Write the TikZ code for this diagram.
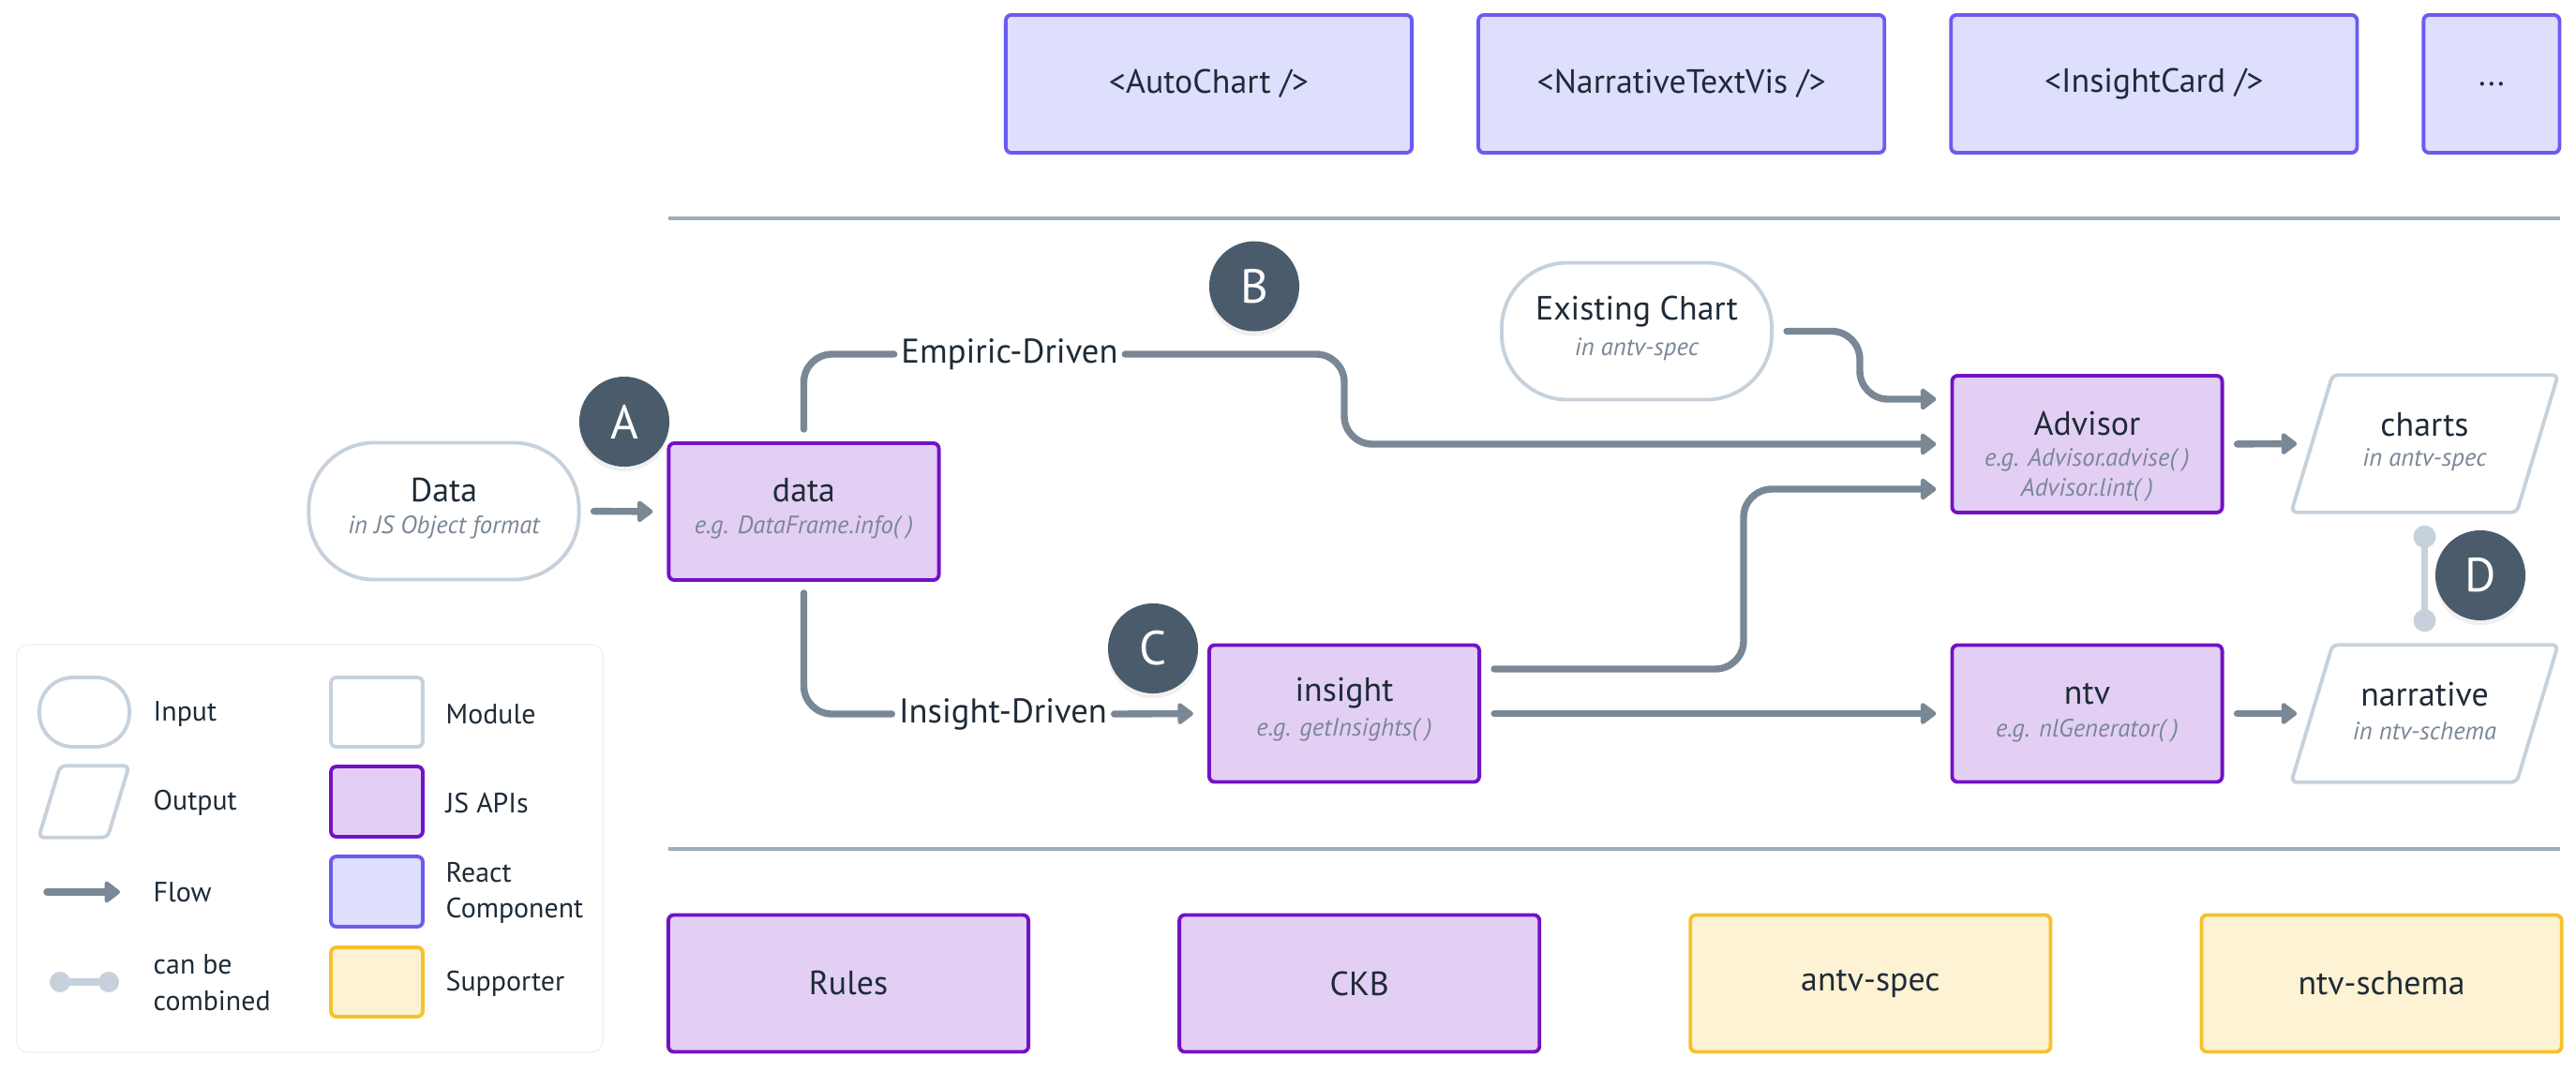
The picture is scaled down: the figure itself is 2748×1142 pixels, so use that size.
\documentclass[tikz,border=0pt]{standalone}
\usepackage{fontspec}
\setmainfont{PT Sans}
\usetikzlibrary{arrows.meta,shapes,positioning,shadows,calc}
\definecolor{ava-flow}{HTML}{7A8795}
\definecolor{ava-line}{HTML}{C6D1DB}
\definecolor{ava-sep}{HTML}{9DADBA}
\definecolor{ava-js-fill}{HTML}{E3CFF3}
\definecolor{ava-js-draw}{HTML}{7312C4}
\definecolor{ava-react-fill}{HTML}{DEDEFD}
\definecolor{ava-react-draw}{HTML}{6B5BF2}
\definecolor{ava-sup-fill}{HTML}{FDF2D3}
\definecolor{ava-sup-draw}{HTML}{F6C12B}
\definecolor{ava-badge}{HTML}{4A5C6B}
\definecolor{ava-text}{HTML}{1E2B37}
\definecolor{ava-sub}{HTML}{7A8795}

\begin{document}
\begin{tikzpicture}[x=0.01cm, y=-0.01cm, node distance={6.7mm},
    box/.style={rectangle, rounded corners=0.06cm, line width=1.1pt, minimum width=2.88cm, minimum height=1.46cm, inner sep=0pt, text=ava-text, font=\fontsize{10.2}{12}\selectfont},
    jsbox/.style={box, draw=ava-js-draw, fill=ava-js-fill},
    reactbox/.style={box, draw=ava-react-draw, fill=ava-react-fill, minimum width=4.33cm, minimum height=1.47cm},
    supbox/.style={box, draw=ava-sup-draw, fill=ava-sup-fill, minimum width=3.84cm},
    modbox/.style={box, draw=ava-line, fill=white},
    inbox/.style={box, draw=ava-line, fill=white, rounded corners=0.7cm},
    outbox/.style={rectangle, minimum width=2.83cm, minimum height=1.45cm, inner sep=0pt},
    outline/.style={draw=ava-line, line width=1.1pt, rounded corners=0.06cm, fill=white},
    boxtitle/.style={text=ava-text, font=\fontsize{10.2}{12}\selectfont, inner sep=0pt},
    boxsub/.style={text=ava-sub, font=\fontsize{7.6}{9.2}\selectfont\itshape, inner sep=0pt, align=center},
    edgelabel/.style={text=ava-text, font=\fontsize{10.4}{12}\selectfont, fill=white, inner sep=2pt},
    badge/.style={circle, fill=ava-badge, text=white, minimum size=0.96cm, inner sep=0pt, font=\fontsize{14.5}{16}\selectfont, drop shadow={shadow xshift=0pt, shadow yshift=-1.5pt, opacity=0.12}},
    flow/.style={draw=ava-flow, line width=2.1pt, line cap=round, rounded corners=0.3cm, -{Triangle[length=0.18cm, width=0.26cm, round]}},
    flowline/.style={draw=ava-flow, line width=2.1pt, line cap=round, rounded corners=0.3cm},
    gapin/.style={shorten <=4pt},
    gapout/.style={shorten >=4.3pt},
    legtext/.style={text=ava-text, font=\fontsize{8.5}{11}\selectfont, anchor=west, align=left, inner sep=0pt}]

    \useasboundingbox (0,0) rectangle (2748,1142);

    % react components
    \node[reactbox] (autochart) at (1289.5,89.5) {<AutoChart />};
    \node[reactbox] (ntvis) [right=of autochart] {<NarrativeTextVis />};
    \node[reactbox] (card) [right=of ntvis] {<InsightCard />};
    \node[reactbox, minimum width=1.45cm] (more) [right=of card] {...};

    \draw[ava-sep, line width=1.1pt] (713,233) -- (2731,233);
    \draw[ava-sep, line width=1.1pt] (713,906) -- (2731,906);

    % inputs, apis, outputs
    \node[inbox] (datain) at (473.5,545.5) {};
    \node[boxtitle] (datain-t) at ([yshift=0.22cm]datain.center) {Data};
    \node[boxsub] (datain-s) at ([yshift=-0.17cm]datain.center) {in JS Object format};

    \node[jsbox] (data) at (857.5,546) {};
    \node[boxtitle] (data-t) at ([yshift=0.23cm]data.center) {data};
    \node[boxsub] (data-s) at ([yshift=-0.17cm]data.center) {e.g. DataFrame.info( )};

    \node[jsbox] (insight) at (1434,761.5) {};
    \node[boxtitle] (insight-t) at ([yshift=0.215cm]insight.center) {insight};
    \node[boxsub] (insight-s) at ([yshift=-0.175cm]insight.center) {e.g. getInsights( )};

    \node[inbox] (chart) at (1746,353.5) {};
    \node[boxtitle] (chart-t) at ([yshift=0.21cm]chart.center) {Existing Chart};
    \node[boxsub] (chart-s) at ([yshift=-0.19cm]chart.center) {in antv-spec};

    \node[jsbox] (advisor) at (2226.5,474) {};
    \node[boxtitle] (advisor-t) at ([yshift=0.22cm]advisor.center) {Advisor};
    \node[boxsub] (advisor-s) at ([yshift=-0.33cm]advisor.center) {e.g. Advisor.advise( )\\Advisor.lint( )};

    \node[jsbox] (ntv) at (2226.5,761.5) {};
    \node[boxtitle] (ntv-t) at ([yshift=0.205cm]ntv.center) {ntv};
    \node[boxsub] (ntv-s) at ([yshift=-0.185cm]ntv.center) {e.g. nlGenerator( )};

    \node[outbox] (charts) at (2586.5,473.5) {};
    \draw[outline] ([xshift=0.44cm]charts.north west) -- (charts.north east) -- ([xshift=-0.44cm]charts.south east) -- (charts.south west) -- cycle;
    \node[boxtitle] (charts-t) at ([yshift=0.205cm]charts.center) {charts};
    \node[boxsub] (charts-s) at ([yshift=-0.175cm]charts.center) {in antv-spec};

    \node[outbox] (narr) at (2586.5,761.5) {};
    \draw[outline] ([xshift=0.44cm]narr.north west) -- (narr.north east) -- ([xshift=-0.44cm]narr.south east) -- (narr.south west) -- cycle;
    \node[boxtitle] (narr-t) at ([yshift=0.205cm]narr.center) {narrative};
    \node[boxsub] (narr-s) at ([yshift=-0.185cm]narr.center) {in ntv-schema};

    % flows
    \draw[flow, gapin, gapout] (datain.east) -- (data.west);

    \node[edgelabel] (empiric) at (1077,378) {Empiric-Driven};
    \draw[flowline, shorten <=3.7pt] (data.north) |- (empiric.west);
    \draw[flow, gapout] (empiric.east) -| (1434,474) -- (advisor.west);

    \node[edgelabel] (insdriven) at (1070,762) {Insight-Driven};
    \draw[flowline, shorten <=3.4pt] (data.south) |- (insdriven.west);
    \draw[flow, gapout] (insdriven.east) -- (insight.west);

    \draw[flow, gapin, gapout] ([yshift=0.475cm]insight.east) -| (1860,522) -- ([yshift=-0.48cm]advisor.west);
    \draw[flow, gapin, gapout] (insight.east) -- (ntv.west);
    \draw[flow, gapin, gapout] (chart.east) -| (1984,426) -- ([yshift=0.48cm]advisor.west);

    \draw[flow, gapin] (advisor.east) -- ([xshift=0.06cm]charts.west);
    \draw[flow, gapin] (ntv.east) -- ([xshift=0.06cm]narr.west);

    % can be combined
    \coordinate (d-top) at ([yshift=-0.26cm]charts.south);
    \coordinate (d-bot) at ([yshift=0.26cm]narr.north);
    \draw[ava-line, line width=2.2pt] (d-top) -- (d-bot);
    \fill[ava-line] (d-top) circle (0.12cm) (d-bot) circle (0.12cm);

    \node[badge] (A) at (666,450) {A};
    \node[badge] (B) at (1338,305.5) {B};
    \node[badge] (C) at (1230,692) {C};
    \node[badge] (D) at (2646,614) {D};

    % supporters
    \node[jsbox, minimum width=3.84cm] (rules) at (905,1049.5) {Rules};
    \node[jsbox, minimum width=3.84cm] (ckb) [right=1.57cm of rules] {CKB};
    \node[supbox] (antv) [right=1.57cm of ckb] {antv-spec};
    \node[supbox] (schema) [right=1.57cm of antv] {ntv-schema};

    % legend
    \node[rectangle, draw=black!5, fill=white, rounded corners=0.12cm, minimum width=6.25cm, minimum height=4.35cm] (legend) at (330.5,905.5) {};

    \node[inbox, minimum width=0.96cm, minimum height=0.74cm, rounded corners=0.36cm] (leg-in) at (90,760) {};
    \node[legtext] (leg-in-t) at (163,762) {Input};
    \node[outbox, minimum width=0.95cm, minimum height=0.75cm] (leg-out) at (89.5,855.5) {};
    \draw[outline] ([xshift=0.23cm]leg-out.north west) -- (leg-out.north east) -- ([xshift=-0.23cm]leg-out.south east) -- (leg-out.south west) -- cycle;
    \node[legtext] (leg-out-t) at (163,857) {Output};
    \coordinate (leg-fa) at (50,952);
    \coordinate (leg-fb) at (128,952);
    \draw[flow] (leg-fa) -- (leg-fb);
    \node[legtext] (leg-flow-t) at (163,952) {Flow};
    \coordinate (leg-ca) at (64,1048);
    \coordinate (leg-cb) at (116,1048);
    \draw[ava-line, line width=2pt] (leg-ca) -- (leg-cb);
    \fill[ava-line] (leg-ca) circle (0.11cm) (leg-cb) circle (0.11cm);
    \node[legtext] (leg-comb-t) at (163,1049) {can be\\combined};

    \node[modbox, minimum width=0.98cm, minimum height=0.74cm] (leg-mod) at (402,760) {};
    \node[legtext] (leg-mod-t) at (475,762) {Module};
    \node[jsbox, minimum width=0.98cm, minimum height=0.75cm] (leg-js) at (402,855.5) {};
    \node[legtext] (leg-js-t) at (475,857) {JS APIs};
    \node[reactbox, minimum width=0.98cm, minimum height=0.75cm] (leg-react) at (402,951.5) {};
    \node[legtext] (leg-react-t) at (475,953) {React\\Component};
    \node[supbox, minimum width=0.98cm, minimum height=0.74cm] (leg-sup) at (402,1048) {};
    \node[legtext] (leg-sup-t) at (475,1050) {Supporter};

\end{tikzpicture}
\end{document}
